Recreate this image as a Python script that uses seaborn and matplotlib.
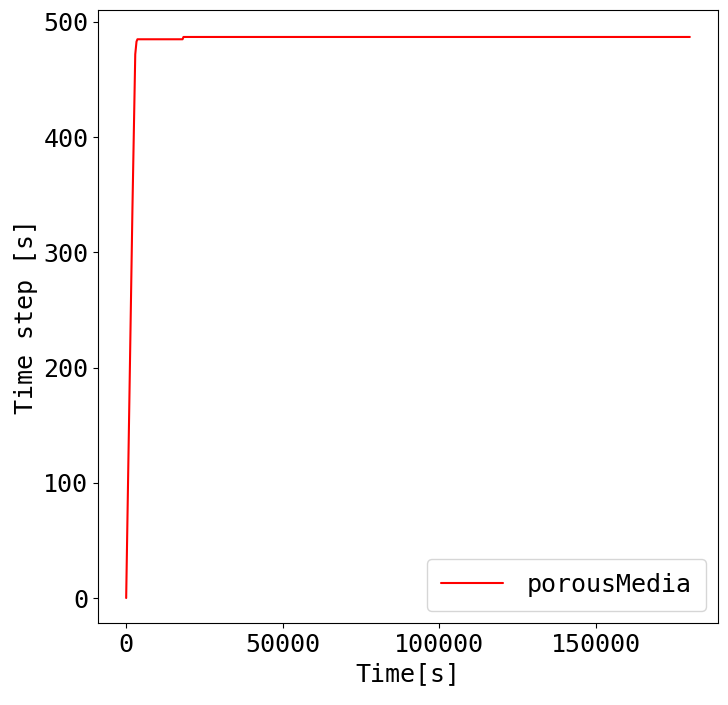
import numpy as np
import pandas as pd
import matplotlib
matplotlib.use("Agg")
import matplotlib.pyplot as plt
import seaborn as sns

# time [s] and time step [s]
time = [0, 1000, 2000, 2900, 3300, 3600, 18000, 18300, 180000]
time_step = [0, 168, 338, 472, 483, 485, 485, 487, 487]
label = 'porousMedia'

df = pd.DataFrame({'Time': time, 'dt': time_step})

sns.set_style('ticks', {'text.color': 'black', 'axes.labelcolor': 'black',
                        'xtick.color': 'black', 'ytick.color': 'black',
                        'axes.edgecolor': 'black'})
plt.rcParams['font.family'] = ['DejaVu Sans Mono']
plt.rcParams['font.size'] = 18

f, ax = plt.subplots(figsize=(7.28, 7.05), dpi=100)
sns.lineplot(data=df, x='Time', y='dt', color='red', linewidth=1.5, label=label, ax=ax)
ax.set_xlabel('Time[s]', fontsize=18)
ax.set_ylabel('Time step [s]', fontsize=18)
ax.tick_params(labelsize=18)
ax.set_xticks([0, 50000, 100000, 150000])
ax.set_yticks([0, 100, 200, 300, 400, 500])
ax.set_ylim(-21.7, 510.4)
ax.legend(loc='lower right', fontsize=18, handlelength=2.5, handletextpad=0.95,
          borderpad=0.55, borderaxespad=0.5)
f.subplots_adjust(left=0.1346, right=0.9863, top=0.9858, bottom=0.1163)
plt.savefig('out.png', dpi=100)
